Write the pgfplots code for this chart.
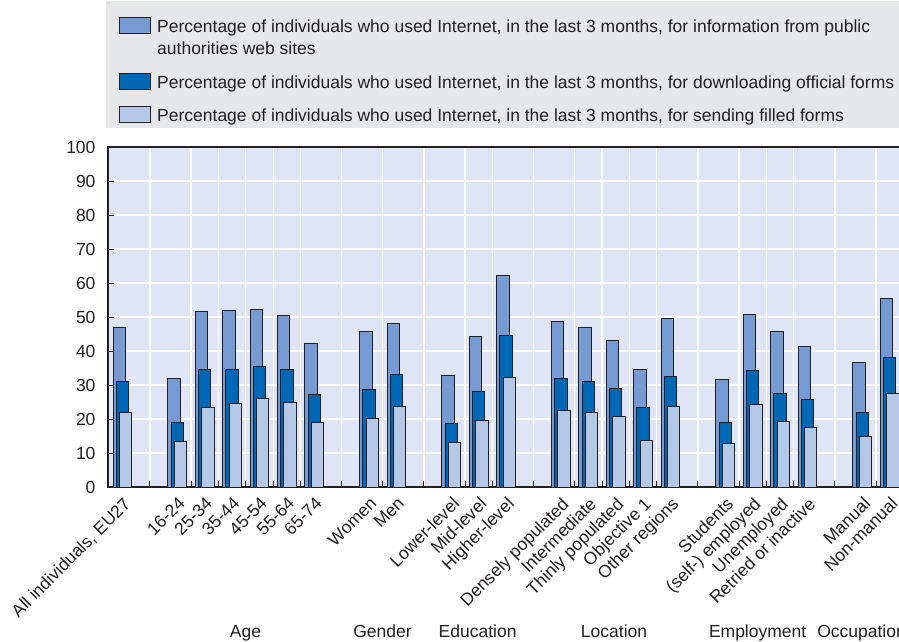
\documentclass[border=0pt]{standalone}
\usepackage{fontspec}
\setmainfont{Liberation Sans}
\usepackage{pgfplots}
\usepackage{pgfplotstable}
\pgfplotsset{compat=1.18}

\definecolor{barA}{HTML}{769BD3}
\definecolor{barB}{HTML}{0067B4}
\definecolor{barC}{HTML}{B5C8E8}
\definecolor{plotbg}{HTML}{DFE5F4}
\definecolor{legbg}{HTML}{E6E7E9}
\definecolor{edge}{HTML}{231F20}
\definecolor{txt}{HTML}{231F20}

% x = category slot (empty slots separate the groups)
% a = information from public authorities web sites
% b = downloading official forms
% c = sending filled forms
\pgfplotstableread{
x  a    b    c
0  47.0 31.0 22.0
2  31.8 18.9 13.3
3  51.6 34.6 23.4
4  52.0 34.6 24.6
5  52.3 35.3 26.1
6  50.4 34.5 24.8
7  42.1 27.1 19.1
9  45.7 28.7 20.1
10 48.2 33.0 23.6
12 32.9 18.6 13.2
13 44.2 28.2 19.6
14 62.1 44.6 32.2
16 48.8 32.0 22.5
17 46.8 31.1 21.9
18 43.2 29.0 20.7
19 34.6 23.5 13.8
20 49.6 32.5 23.8
22 31.7 19.0 12.9
23 50.7 34.2 24.3
24 45.6 27.6 19.2
25 41.4 25.6 17.5
27 36.6 22.0 15.0
28 55.4 38.1 27.6
}\datatable

\newcommand{\txtfont}{\fontsize{17.5}{21.7}\selectfont}

\begin{document}
\begin{tikzpicture}
\begin{axis}[
  at={(0,0)}, anchor=south west,
  scale only axis, width=795.4pt, height=340pt,
  xmin=-0.53, xmax=28.5, ymin=0, ymax=100,
  clip=false,
  axis background/.style={fill=plotbg},
  axis line style={edge, line width=1.2pt},
  tick pos=left, tick align=inside,
  ytick={0,10,...,100},
  grid style={white, line width=1.3pt},
  major grid style={white, line width=1.3pt},
  ymajorgrids, xmajorgrids,
  major tick length=6.5pt,
  tick style={edge, line width=1pt},
  % white vertical rules between neighbouring categories and in the gaps
  xtick={1,2.5,3.5,4.5,5.5,6.5,8,9.5,11,12.5,13.5,15,16.5,17.5,18.5,19.5,21,22.5,23.5,24.5,26,27.5},
  xticklabels={},
  % category names
  extra x ticks={0,2,3,4,5,6,7,9,10,12,13,14,16,17,18,19,20,22,23,24,25,27,28},
  extra x tick labels={{All individuals, EU27},16-24,25-34,35-44,45-54,55-64,65-74,
    Women,Men,Lower-level,Mid-level,Higher-level,
    Densely populated,Intermediate,Thinly populated,Objective 1,Other regions,
    Students,(self-) employed,Unemployed,Retried or inactive,
    Manual,Non-manual},
  extra x tick style={grid=none, major tick length=0pt,
    xticklabel style={rotate=45, anchor=north east, xshift=-3pt, yshift=-3pt}},
  /pgf/number format/assume math mode=true,
  ticklabel style={font=\txtfont, text=txt},
  yticklabel style={xshift=-9pt},
  legend style={
    at={(-0.0025,1.4294)}, anchor=north west,
    draw=none, fill=legbg, font=\txtfont, text=txt,
    inner xsep=13pt, inner ysep=3.5pt, row sep=0pt,
    cells={anchor=base west, inner ysep=0pt},
  },
  legend image code/.code={\draw[#1, line width=1pt] (0pt,-1pt) rectangle (31pt,14.5pt);
    \path (35pt,0pt);},
]
\addplot[ybar, bar width=12.4pt, bar shift=-3.2pt, fill=barA, draw=edge, line width=1pt]
  table[x=x, y=a]{\datatable};
\addlegendentry{\rule{0pt}{25.5pt}Percentage of individuals who used Internet, in the last 3 months, for information from public}
\addlegendimage{empty legend}
\addlegendentry{\rule{0pt}{16.5pt}authorities web sites}
\addplot[ybar, bar width=12.4pt, bar shift=0pt, fill=barB, draw=edge, line width=1pt]
  table[x=x, y=b]{\datatable};
\addlegendentry{\rule{0pt}{28.5pt}Percentage of individuals who used Internet, in the last 3 months, for downloading official forms}
\addplot[ybar, bar width=12.4pt, bar shift=3.2pt, fill=barC, draw=edge, line width=1pt]
  table[x=x, y=c]{\datatable};
\addlegendentry{\rule{0pt}{27.5pt}Percentage of individuals who used Internet, in the last 3 months, for sending filled forms}

% group captions under the rotated category names
\begin{scope}[every node/.style={font=\txtfont, text=txt}]
\node[anchor=base, yshift=-150pt] at (axis cs:4.49,0) {Age};
\node[anchor=base, yshift=-150pt] at (axis cs:9.49,0) {Gender};
\node[anchor=base, yshift=-150pt] at (axis cs:12.96,0) {Education};
\node[anchor=base, yshift=-150pt] at (axis cs:17.94,0) {Location};
\node[anchor=base, yshift=-150pt] at (axis cs:23.18,0) {Employment};
\node[anchor=base west, yshift=-150pt, inner xsep=0pt] at (axis cs:25.35,0) {Occupation};
\end{scope}
\end{axis}
\pgfresetboundingbox
\useasboundingbox (-108pt,-154pt) rectangle (791pt,487pt);
\end{tikzpicture}
\end{document}
